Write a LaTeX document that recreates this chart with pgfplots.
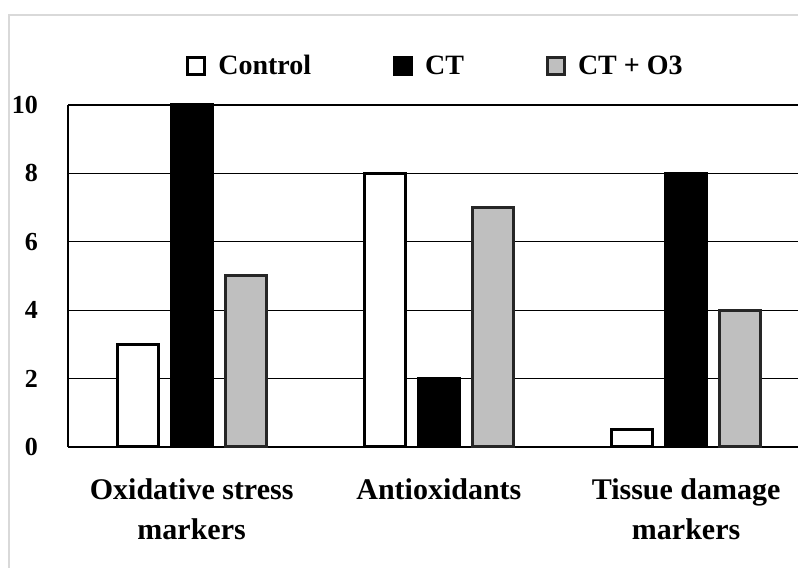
\documentclass[border=0pt]{standalone}
\usepackage{pgfplots}
\pgfplotsset{compat=1.18}
\usepackage{fontspec}
\setmainfont{Liberation Serif}
\definecolor{barg}{HTML}{BFBFBF}
\definecolor{frameg}{HTML}{D9D9D9}
\begin{document}
\begin{tikzpicture}[x=1bp,y=1bp]
\useasboundingbox (0,0) rectangle (798,568);
\draw[frameg, line width=1.5bp] (9,-20) -- (9,553) -- (830,553);
\begin{axis}[
  at={(68bp,121bp)}, anchor=south west,
  scale only axis, width=730bp, height=342bp,
  xmin=-0.5, xmax=2.4525, ymin=0, ymax=10,
  ytick={0,2,...,10},
  xtick={0,1,2},
  xticklabels={{Oxidative stress\\markers},{Antioxidants},{Tissue damage\\markers}},
  /pgf/number format/assume math mode=true,
  tick style={draw=none},
  major tick length=0pt,
  ymajorgrids,
  grid style={black, line width=1.3bp},
  axis x line*=bottom, axis y line*=left,
  axis line style={line width=2.5bp, black, -},
  yticklabel style={font=\fontsize{26bp}{30bp}\selectfont\bfseries, anchor=east, inner sep=0pt, xshift=-30bp},
  xticklabel style={font=\fontsize{30bp}{40bp}\selectfont\bfseries, anchor=north, align=center, inner sep=0pt, yshift=-31bp},
  ybar=13bp, bar width=41bp,
  clip=false,
  legend columns=3,
  legend style={at={(0.5034,1.114)}, anchor=center, draw=none, fill=none,
    font=\fontsize{28bp}{30bp}\selectfont\bfseries,
    /tikz/every odd column/.append style={column sep=10bp},
    /tikz/every even column/.append style={column sep=80bp}},
  legend image code/.code={\draw[#1, line width=3bp] (0bp,-8.5bp) rectangle (17bp,8.5bp);},
]
\addplot[fill=white, draw=black, line width=3bp] coordinates {(0,3) (1,8) (2,0.5)};
\addplot[fill=black, draw=black, line width=3bp] coordinates {(0,10) (1,2) (2,8)};
\addplot[fill=barg, draw=black!85, line width=3bp] coordinates {(0,5) (1,7) (2,4)};
\legend{Control, CT, CT + O3}
\end{axis}
\end{tikzpicture}
\end{document}
